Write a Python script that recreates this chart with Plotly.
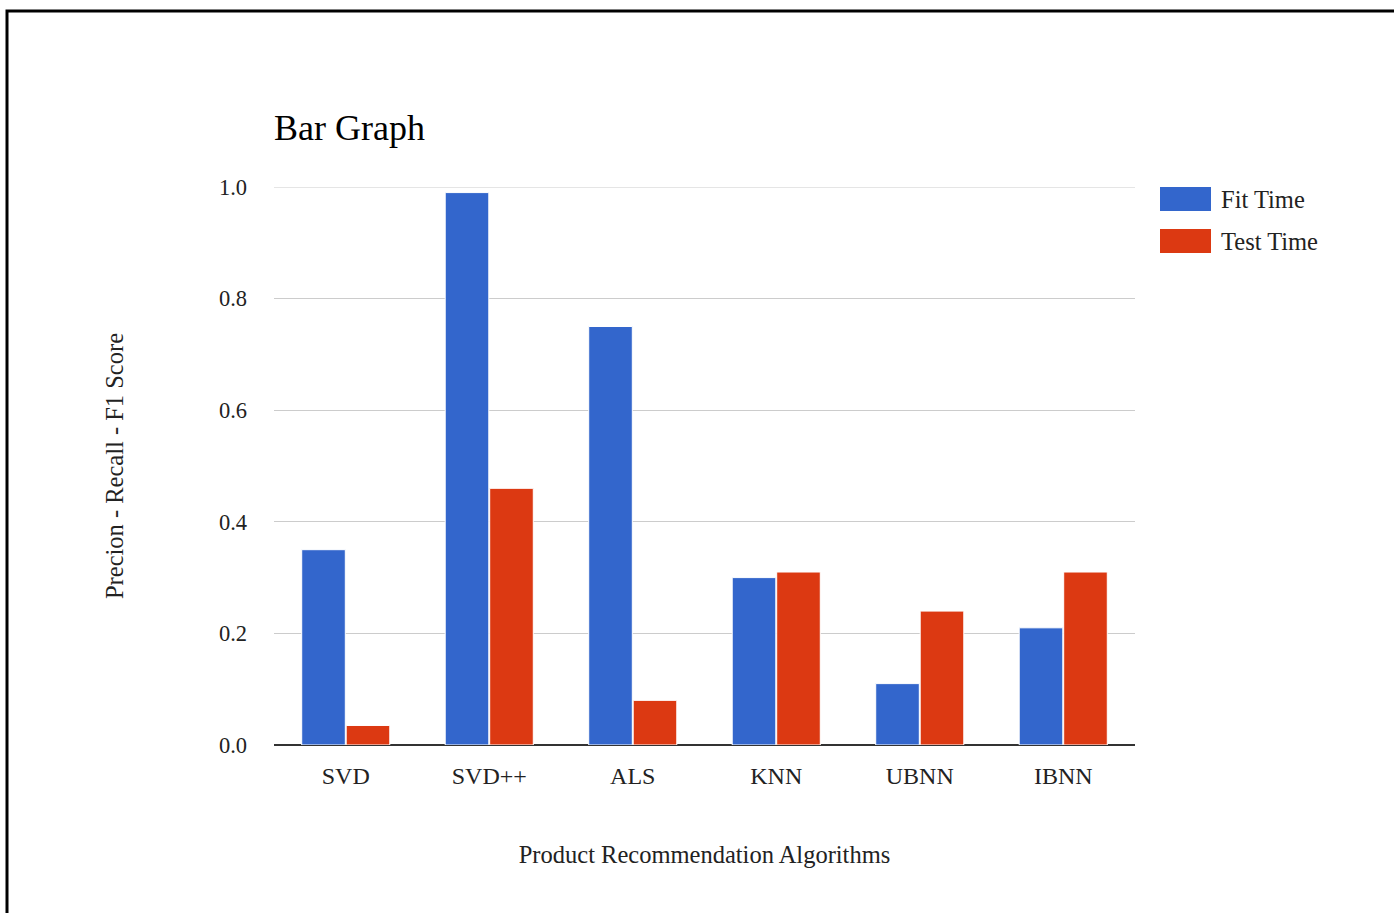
import plotly.graph_objects as go

categories = ["SVD", "SVD++", "ALS", "KNN", "UBNN", "IBNN"]
fit_time = [0.35, 0.99, 0.75, 0.30, 0.11, 0.21]
test_time = [0.035, 0.46, 0.08, 0.31, 0.24, 0.31]
series_names = ["Fit Time", "Test Time"]
colors = ["#3366CC", "#DC3912"]
y_ticks = [0.0, 0.2, 0.4, 0.6, 0.8, 1.0]

W, H = 1394, 913
L, R, T, B = 274, 259, 187, 168
PW, PH = W - L - R, H - T - B

def px(x):
    return (x - L) / PW

def py(y):
    return (H - B - y) / PH

FONT = "Liberation Serif, Times New Roman, serif"
TXT = "#222222"

fig = go.Figure()
for name, vals, col in zip(series_names, [fit_time, test_time], colors):
    fig.add_trace(go.Bar(
        x=categories, y=vals, name=name,
        marker=dict(color=col, line=dict(color="white", width=1)),
        showlegend=False,
    ))

fig.update_layout(
    width=W, height=H,
    margin=dict(l=L, r=R, t=T, b=B, autoexpand=False),
    paper_bgcolor="white", plot_bgcolor="white",
    barmode="group", bargap=0.38, bargroupgap=0.02,
    font=dict(family=FONT, size=24, color=TXT),
    title=dict(text="Bar Graph", x=px(274), xanchor="left", xref="paper",
               y=1 - 127 / H, yanchor="middle",
               font=dict(family=FONT, size=36, color="#000000")),
    xaxis=dict(
        showgrid=False, showline=False, ticks="",
        tickfont=dict(family=FONT, size=24, color=TXT),
        ticklabelstandoff=14,
        title=dict(text="Product Recommendation Algorithms", standoff=57,
                   font=dict(family=FONT, size=24.5, color=TXT)),
    ),
    yaxis=dict(
        range=[0, 1.0], tickvals=y_ticks, ticktext=[f"{v:.1f}" for v in y_ticks],
        showgrid=True, gridcolor="#cccccc", gridwidth=1,
        zeroline=True, zerolinecolor="#333333", zerolinewidth=2,
        showline=False, ticks="",
        ticklabelstandoff=26,
        tickfont=dict(family=FONT, size=22.5, color=TXT),
        title=dict(text="Precion - Recall - F1 Score", standoff=88,
                   font=dict(family=FONT, size=24.5, color=TXT)),
    ),
)

# top gridline at 1.0 drawn explicitly (range end)
fig.add_shape(type="line", xref="paper", yref="y", x0=0, x1=1, y0=1.0, y1=1.0,
              line=dict(color="#cccccc", width=1), layer="below")

# legend swatches and labels
legend_y = [199, 241]
for name, col, yy in zip(series_names, colors, legend_y):
    fig.add_shape(type="rect", xref="paper", yref="paper",
                  x0=px(1160), x1=px(1211), y0=py(yy - 12), y1=py(yy + 12),
                  fillcolor=col, line=dict(color=col, width=0))
    fig.add_annotation(xref="paper", yref="paper", x=px(1219), y=py(yy),
                       text=name, showarrow=False, xanchor="left", yanchor="middle",
                       font=dict(family=FONT, size=24.5, color=TXT))

# outer frame
fig.add_shape(type="rect", xref="paper", yref="paper",
              x0=px(7), x1=px(1400), y0=py(11), y1=py(920),
              line=dict(color="black", width=3), fillcolor="rgba(0,0,0,0)")

fig.write_html("out.html")
